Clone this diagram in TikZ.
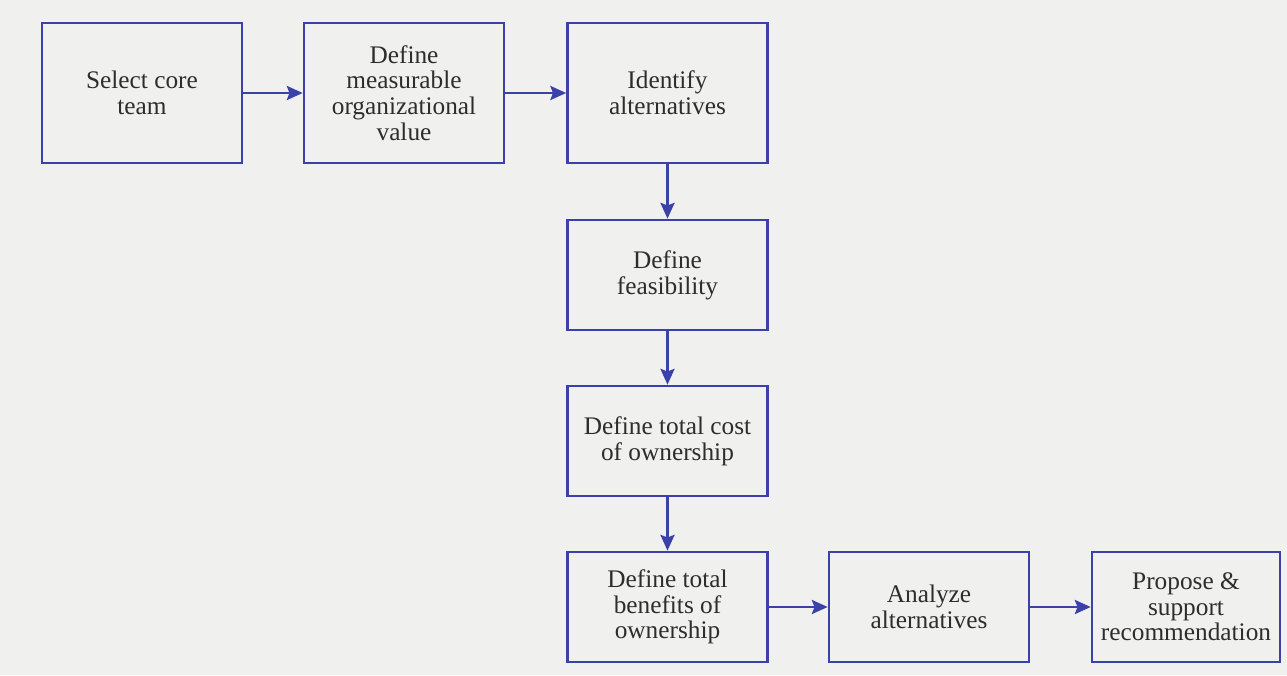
\documentclass[tikz,border=0pt]{standalone}
\usepackage{fontspec}
\setmainfont{Liberation Serif}
\usepackage{tikz}
\usetikzlibrary{calc}
\usetikzlibrary{arrows.meta}
\usetikzlibrary{positioning}
\definecolor{boxblue}{RGB}{58, 66, 170}
\definecolor{paper}{RGB}{240, 240, 238}
\definecolor{ink}{RGB}{45, 45, 45}

\begin{document}
\begin{tikzpicture}[
        task/.style={draw=boxblue, line width=1.5pt, minimum width=4.0cm, minimum height=2.2cm,
                     inner sep=0pt, align=center, text=ink,
                     font=\fontsize{14.4}{14.6}\selectfont},
        flow/.style={draw=boxblue, line width=1.5pt, -{Stealth[length=9pt, width=8pt, inset=1.5pt]}}
    ]
            % Page frame
            \fill[paper] (0.00, 0.00) rectangle (25.74, 13.50);
            \useasboundingbox (0.00, 0.00) rectangle (25.74, 13.50);
            % Top row
            \node[task, minimum height=2.8cm] (team)     at ( 2.84, 11.64) {Select core\\team};
            \node[task, minimum height=2.8cm] (value)    at ( 8.08, 11.64) {Define\\measurable\\organizational\\value};
            \node[task, minimum height=2.8cm] (identify) at (13.35, 11.64) {Identify\\alternatives};
            % Middle column
            \node[task] (feasible) at (13.35,  8.00) {Define\\feasibility};
            \node[task] (cost)     at (13.35,  4.68) {Define total cost\\of ownership};
            \node[task] (benefit)  at (13.35,  1.36) {Define total\\benefits of\\ownership};
            % Bottom row
            \node[task] (analyze)  at (18.58,  1.36) {Analyze\\alternatives};
            \node[task, minimum width=3.76cm] (propose) at (23.72, 1.36) {Propose \&\\support\\recommendation};
            % Connectors
            \draw[flow] (team)     -- (value);
            \draw[flow] (value)    -- (identify);
            \draw[flow] (identify) -- (feasible);
            \draw[flow] (feasible) -- (cost);
            \draw[flow] (cost)     -- (benefit);
            \draw[flow] (benefit)  -- (analyze);
            \draw[flow] (analyze)  -- (propose);
        \end{tikzpicture}
\end{document}
